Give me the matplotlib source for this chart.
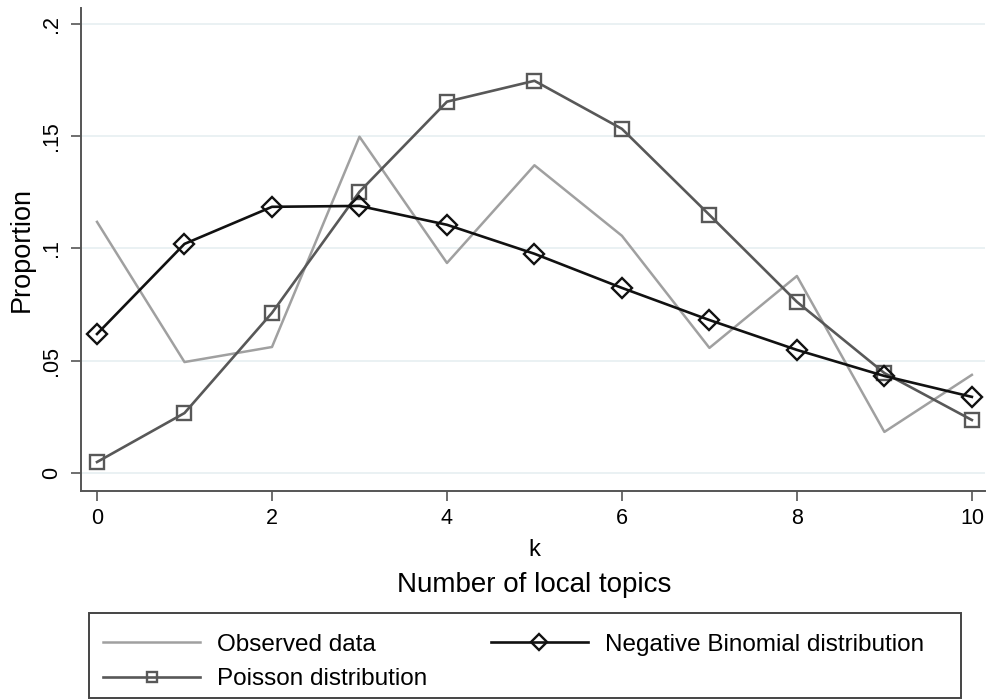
import numpy as np
import matplotlib
matplotlib.use("Agg")
import matplotlib.pyplot as plt
from matplotlib.patches import Rectangle

# values
k = list(range(11))
observed = [0.1118, 0.0494, 0.0561, 0.1497, 0.0935, 0.1370, 0.1056, 0.0557, 0.0877, 0.0183, 0.0437]
poisson = [0.0049, 0.0267, 0.0713, 0.1252, 0.1653, 0.1746, 0.1532, 0.1149, 0.0762, 0.0445, 0.0236]
negbin = [0.0619, 0.1020, 0.1185, 0.1189, 0.1105, 0.0976, 0.0824, 0.0681, 0.0548, 0.0432, 0.0339]
y_ticks = [0, 0.05, 0.1, 0.15, 0.2]
y_ticklabels = ["0", ".05", ".1", ".15", ".2"]
x_ticks = [0, 2, 4, 6, 8, 10]

plt.rcParams['font.family'] = ['Liberation Sans', 'DejaVu Sans']

W, H = 989, 700
fig = plt.figure(figsize=(W / 100, H / 100), dpi=100)
ax = fig.add_axes([81 / W, 1 - 491 / H, 904 / W, 483 / H])

ax.plot(k, observed, color='#a0a0a0', linewidth=1.8, label='Observed data')
ax.plot(k, poisson, color='#585858', linewidth=1.9, marker='s', markersize=9.5,
        markerfacecolor='none', markeredgecolor='#585858', markeredgewidth=1.7,
        label='Poisson distribution')
ax.plot(k, negbin, color='#111111', linewidth=1.9, marker='D', markersize=10,
        markerfacecolor='none', markeredgecolor='#111111', markeredgewidth=1.7,
        label='Negative Binomial distribution')

ax.set_xlim(-0.183, 10.15)
ax.set_ylim(-0.008, 0.207)
ax.set_xticks(x_ticks)
ax.set_yticks(y_ticks)
ax.set_yticklabels(y_ticklabels, rotation=90, va='center')
ax.tick_params(axis='both', labelsize=15.5, length=7.5, width=1.2, color='#555555',
               direction='out', pad=5)
ax.tick_params(axis='y', pad=6)
ax.grid(axis='y', color='#e8f0f2', linewidth=1.3)
ax.set_axisbelow(True)
for side in ['top', 'right']:
    ax.spines[side].set_visible(False)
for side in ['left', 'bottom']:
    ax.spines[side].set_color('#555555')
    ax.spines[side].set_linewidth(1.4)

ax.set_ylabel('Proportion', fontsize=19.5, labelpad=5)

fig.text(534 / W, 1 - 550 / H, 'k', ha='center', va='center', fontsize=17)
fig.text(534 / W, 1 - 585 / H, 'Number of local topics',
         ha='center', va='center', fontsize=20)

# legend frame drawn by hand to match the box size
fig.patches.append(Rectangle((89 / W, 1 - 698 / H), 872 / W, 85 / H,
                             transform=fig.transFigure, fill=False,
                             edgecolor='#444444', linewidth=1.4))

handles, labels = ax.get_legend_handles_labels()
fig.legend(handles, labels, ncol=2, loc='center left',
           bbox_to_anchor=(89 / W, 1 - 662 / H), frameon=False,
           fontsize=17.5, handlelength=4.0, handletextpad=0.7,
           columnspacing=2.6, borderpad=0.58, borderaxespad=0,
           labelspacing=0.5, markerscale=0.8)

fig.savefig('out.png', dpi=100)
